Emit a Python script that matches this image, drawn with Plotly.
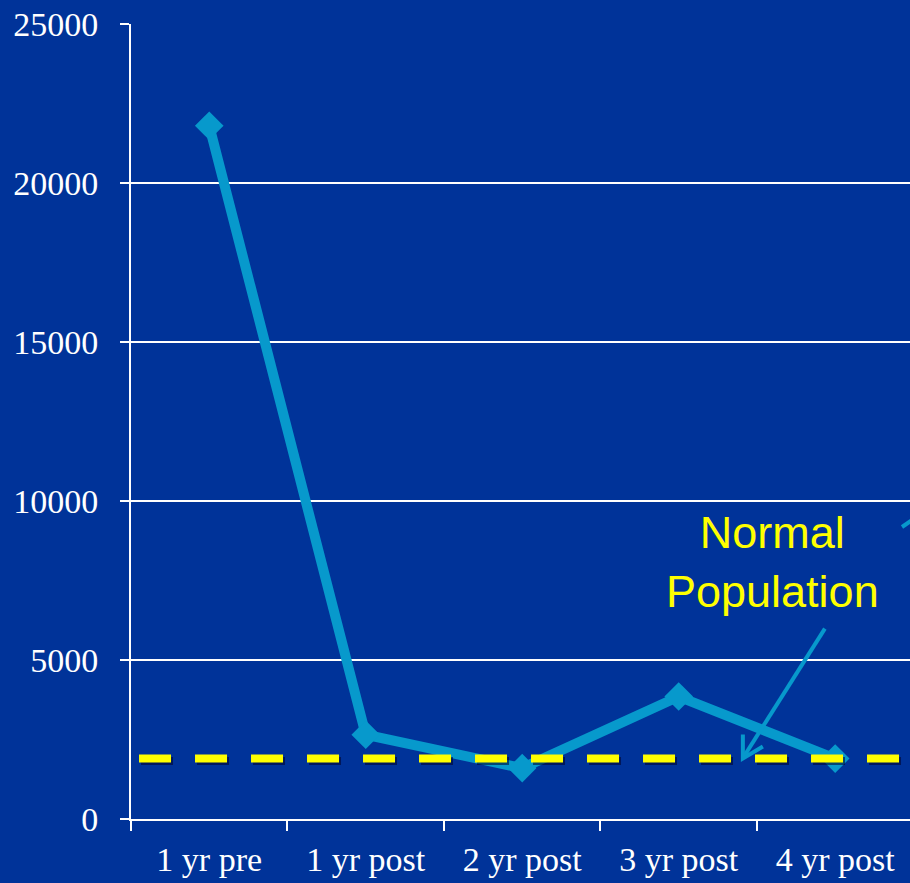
import plotly.graph_objects as go

# Yearly values around the treatment year
categories = ["1 yr pre", "1 yr post", "2 yr post", "3 yr post", "4 yr post"]
values = [21800, 2650, 1600, 3850, 1900]

# Reference level for the normal population
normal_level = 1900
normal_label = "Normal<br>Population"

y_ticks = [0, 5000, 10000, 15000, 20000, 25000]

BG = "#003399"
LINE = "#0799CC"
YELLOW = "#FFFF00"

W, H = 910, 883
M_L, M_T, M_B, M_R = 131, 24, 64, 0
PLOT_W, PLOT_H = W - M_L - M_R, H - M_T - M_B

fig = go.Figure()

# shadow under the normal-population dashes
fig.add_shape(type="line", xref="paper", x0=0.0103 + 2 / PLOT_W, x1=1.05,
              yref="y", ysizemode="pixel", yanchor=normal_level, y0=-2.5, y1=-2.5,
              line=dict(color="rgba(0,0,40,0.55)", width=8, dash="32px,24px"),
              layer="above")
fig.add_shape(type="line", xref="paper", x0=0.0103, x1=1.05,
              yref="y", y0=normal_level, y1=normal_level,
              line=dict(color=YELLOW, width=8, dash="32px,24px"),
              layer="above")

fig.add_trace(go.Scatter(
    x=categories, y=values, mode="lines+markers",
    line=dict(color=LINE, width=10),
    marker=dict(symbol="diamond", size=22, color=LINE, line=dict(width=0)),
    showlegend=False, cliponaxis=False,
))

# label for the normal population
fig.add_annotation(x=(772 - M_L) / PLOT_W, xref="paper", y=(819 - 562) / PLOT_H, yref="paper",
                   text=normal_label, showarrow=False,
                   font=dict(family="Liberation Sans", size=45, color=YELLOW),
                   xanchor="center", yanchor="middle", align="center")

# pointer from the label down to the normal level (tip anchored on the line)
tip_x = 3.41
fig.add_shape(type="path", xref="x", yref="y",
              xsizemode="pixel", ysizemode="pixel",
              xanchor=tip_x, yanchor=normal_level,
              path="M 82,130 L 1,2",
              line=dict(color=LINE, width=4), layer="above")
fig.add_shape(type="path", xref="x", yref="y",
              xsizemode="pixel", ysizemode="pixel",
              xanchor=tip_x, yanchor=normal_level,
              path="M 0,24 L 0,0 L 20,12",
              line=dict(color=LINE, width=4), layer="above")

# pointer entering from the right edge
fig.add_shape(type="line", xref="paper", yref="paper",
              x0=(902 - M_L) / PLOT_W, y0=(819 - 527) / PLOT_H,
              x1=(918 - M_L) / PLOT_W, y1=(819 - 516) / PLOT_H,
              line=dict(color=LINE, width=4))

fig.update_layout(
    width=W, height=H,
    margin=dict(l=M_L, r=M_R, t=M_T, b=M_B, pad=0),
    paper_bgcolor=BG, plot_bgcolor=BG,
    showlegend=False,
    xaxis=dict(
        type="category", range=[-0.5, 4.478],
        tickson="boundaries", ticks="outside", ticklen=10, tickwidth=2,
        tickcolor="white", showgrid=False,
        showline=True, linecolor="white", linewidth=2,
        tickfont=dict(family="Liberation Serif", size=34, color="white"),
        ticklabelstandoff=9,
    ),
    yaxis=dict(
        range=[0, 25000], tickvals=y_ticks,
        ticktext=[str(v) for v in y_ticks],
        ticks="outside", ticklen=9, tickwidth=2, tickcolor="white",
        showgrid=True, gridcolor="white", gridwidth=2,
        zeroline=False,
        showline=True, linecolor="white", linewidth=2,
        tickfont=dict(family="Liberation Serif", size=34, color="white"),
        ticklabelstandoff=15,
    ),
)

fig.write_html("out.html")
